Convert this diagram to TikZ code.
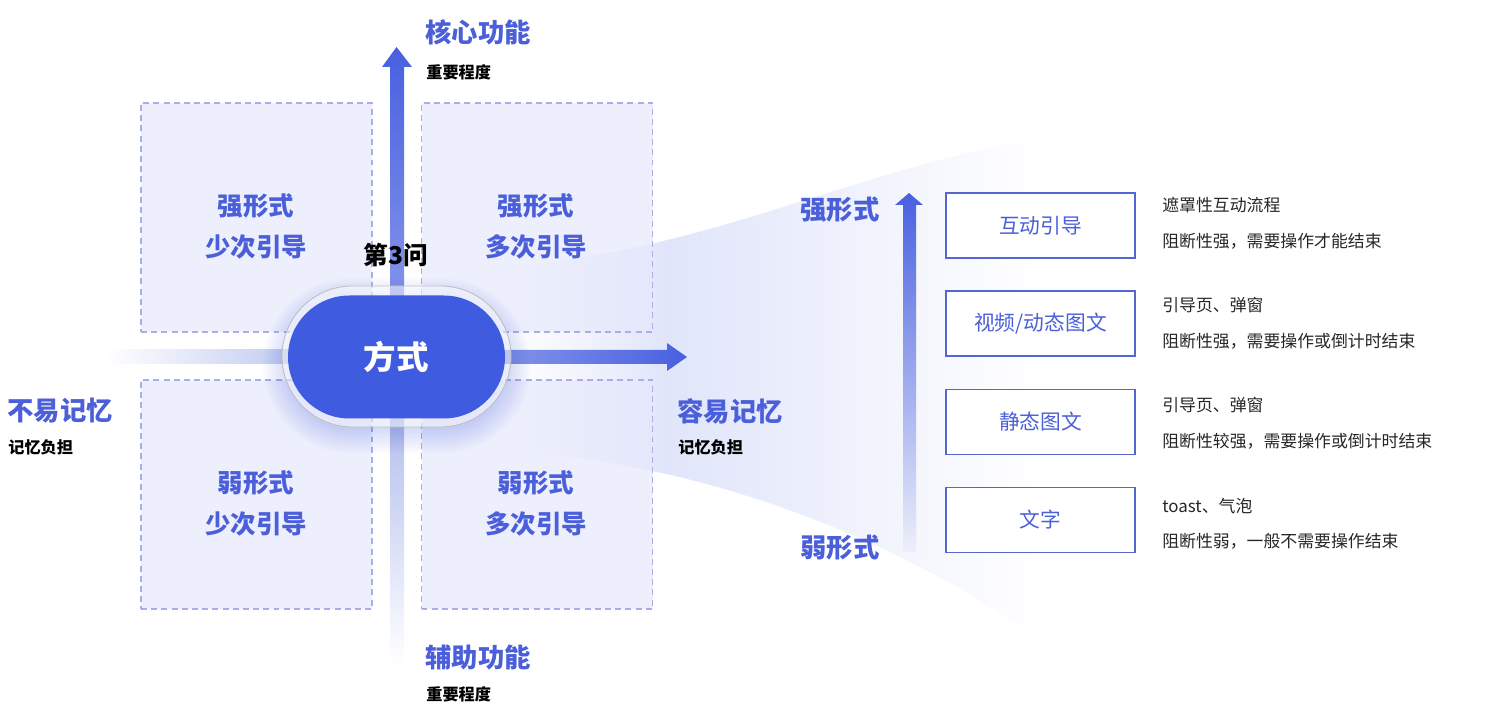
\documentclass[tikz,border=0pt]{standalone}
\usepackage{fontspec}
\setmainfont{Noto Sans CJK SC}
\usetikzlibrary{calc}

\definecolor{mainblue}{HTML}{4A5FD9}
\definecolor{pillblue}{HTML}{3F5BDF}
\definecolor{boxfill}{HTML}{E6E9FB}
\definecolor{boxline}{HTML}{A9AEEA}
\definecolor{fanA}{HTML}{F4F5FD}
\definecolor{fanB}{HTML}{E0E5FA}
\definecolor{arrowtop}{HTML}{4860E0}
\definecolor{arrowlow}{HTML}{8494EA}
\definecolor{fadeblue}{HTML}{B4BFEE}
\definecolor{framecol}{HTML}{5466D0}

\pgfdeclarehorizontalshading{fanshade}{100bp}{color(0bp)=(white); color(25bp)=(white); color(31bp)=(fanA); color(40bp)=(fanB); color(75bp)=(white); color(100bp)=(white)}

\tikzset{
  quad/.style={draw=boxline, line width=0.8pt, dash pattern=on 3.4pt off 2.4pt, fill=boxfill, fill opacity=0.7, minimum width=46.2mm, minimum height=45.8mm, inner sep=0},
  quadtext/.style={text=mainblue, font=\fontsize{14.5}{23.3}\selectfont\bfseries, align=center, inner sep=0},
  axistitle/.style={text=mainblue, font=\fontsize{15}{18}\selectfont\bfseries, anchor=west, inner sep=0},
  axisnote/.style={text=black, font=\fontsize{9.2}{11}\selectfont\bfseries, anchor=west, inner sep=0},
  formbox/.style={draw=framecol, line width=0.8pt, fill=white, minimum width=37.8mm, minimum height=13mm, text=mainblue, font=\fontsize{11.8}{14}\selectfont},
  desc/.style={font=\fontsize{9.6}{12}\selectfont, anchor=west, inner sep=0, text=black!85},
}

\begin{document}
\begin{tikzpicture}[x=0.2mm, y=-0.2mm]
	\useasboundingbox (0,0) rectangle (1500,713);
	\def\cx{396.5} % center x
	\def\cy{357} % center y
	\coordinate (C) at (\cx,\cy);
	
	% fan towards the right
	\shade[shading=fanshade] (505,265) .. controls (700,255) and (850,170) .. (1040,138)
		-- (1040,640) .. controls (900,540) and (700,460) .. (505,452) -- cycle;
	
	% four quadrants
	\node[quad] (qTL) at (256.5,217.5) {};
	\node[quad] (qTR) at (537,217.5) {};
	\node[quad] (qBL) at (256.5,494.5) {};
	\node[quad] (qBR) at (537,494.5) {};
	
	% faded axis parts
	\shade[left color=white, right color=fadeblue!80] (105,350) rectangle (292,364);
	\shade[top color=fadeblue, bottom color=white] (390,418) rectangle (404,665);
	
	% vertical arrow
	\coordinate (T) at (\cx,47);
	\shade[top color=arrowtop, bottom color=arrowlow] (390,300) -- (390,67) -- (382,67) -- (T)
		-- (412,67) -- (404,67) -- (404,300) -- cycle;
	
	% horizontal arrow
	\coordinate (R) at (687,\cy);
	\shade[left color=arrowlow, right color=arrowtop] (500,350) -- (667,350) -- (667,343) -- (R)
		-- (667,371) -- (667,364) -- (500,364) -- cycle;
	
	% glow under the pill
	\foreach \i in {1,...,10}
		\fill[pillblue, opacity=0.022, rounded corners=(61.5+2.5*\i)*0.2mm]
			($(288,303)-(2.5*\i,2.5*\i)$) rectangle ($(505,428)+(2.5*\i,2.5*\i)$);
	
	% ring round the pill
	\draw[black!25, fill=white, fill opacity=0.55, line width=0.5pt, rounded corners=14.1mm]
		(282,286) rectangle (511,427);
	
	% pill
	\node[fill=pillblue, rounded corners=12.3mm, minimum width=43.4mm, minimum height=24.6mm,
		text=white, font=\fontsize{18.5}{20}\selectfont\bfseries] (way) at (C) {方式};
	\node[font=\fontsize{14}{16}\selectfont\bfseries, inner sep=0] (q3) at (396,255) {第3问};
	
	% quadrant labels
	\node[quadtext] (tTL) at (256,226) {强形式\\少次引导};
	\node[quadtext] (tTR) at (536,226) {强形式\\多次引导};
	\node[quadtext] (tBL) at (256,503) {弱形式\\少次引导};
	\node[quadtext] (tBR) at (536,503) {弱形式\\多次引导};
	
	% axis labels
	\node[axistitle] (core) at (425,32) {核心功能};
	\node[axisnote] (coreN) at (426,72) {重要程度};
	\node[axistitle] (aux) at (425,657) {辅助功能};
	\node[axisnote] (auxN) at (426,694) {重要程度};
	\node[axistitle] (hard) at (7,411) {不易记忆};
	\node[axisnote] (hardN) at (8,447) {记忆负担};
	\node[axistitle] (easy) at (677,411) {容易记忆};
	\node[axisnote] (easyN) at (678,447) {记忆负担};
	
	% strength arrow
	\coordinate (S) at (909,193);
	\shade[top color=arrowtop, bottom color=fadeblue!25] (903,552) -- (903,205) -- (895,205) -- (S)
		-- (923,205) -- (916,205) -- (916,552) -- cycle;
	\node[axistitle, anchor=center] (strong) at (840,210) {强形式};
	\node[axistitle, anchor=center] (weak) at (840,548) {弱形式};
	
	% forms
	\node[formbox] (f1) at (1040.5,225.5) {互动引导};
	\node[formbox] (f2) at (1040.5,323.5) {视频/动态图文};
	\node[formbox] (f3) at (1040.5,422) {静态图文};
	\node[formbox] (f4) at (1040.5,520) {文字};
	
	% descriptions
	\node[desc] (d1a) at (1162,205) {遮罩性互动流程};
	\node[desc] (d1b) at (1162,241) {阻断性强，需要操作才能结束};
	\node[desc] (d2a) at (1162,305) {引导页、弹窗};
	\node[desc] (d2b) at (1162,341) {阻断性强，需要操作或倒计时结束};
	\node[desc] (d3a) at (1162,405) {引导页、弹窗};
	\node[desc] (d3b) at (1162,441) {阻断性较强，需要操作或倒计时结束};
	\node[desc] (d4a) at (1162,506) {toast、气泡};
	\node[desc] (d4b) at (1162,541) {阻断性弱，一般不需要操作结束};
\end{tikzpicture}
\end{document}
